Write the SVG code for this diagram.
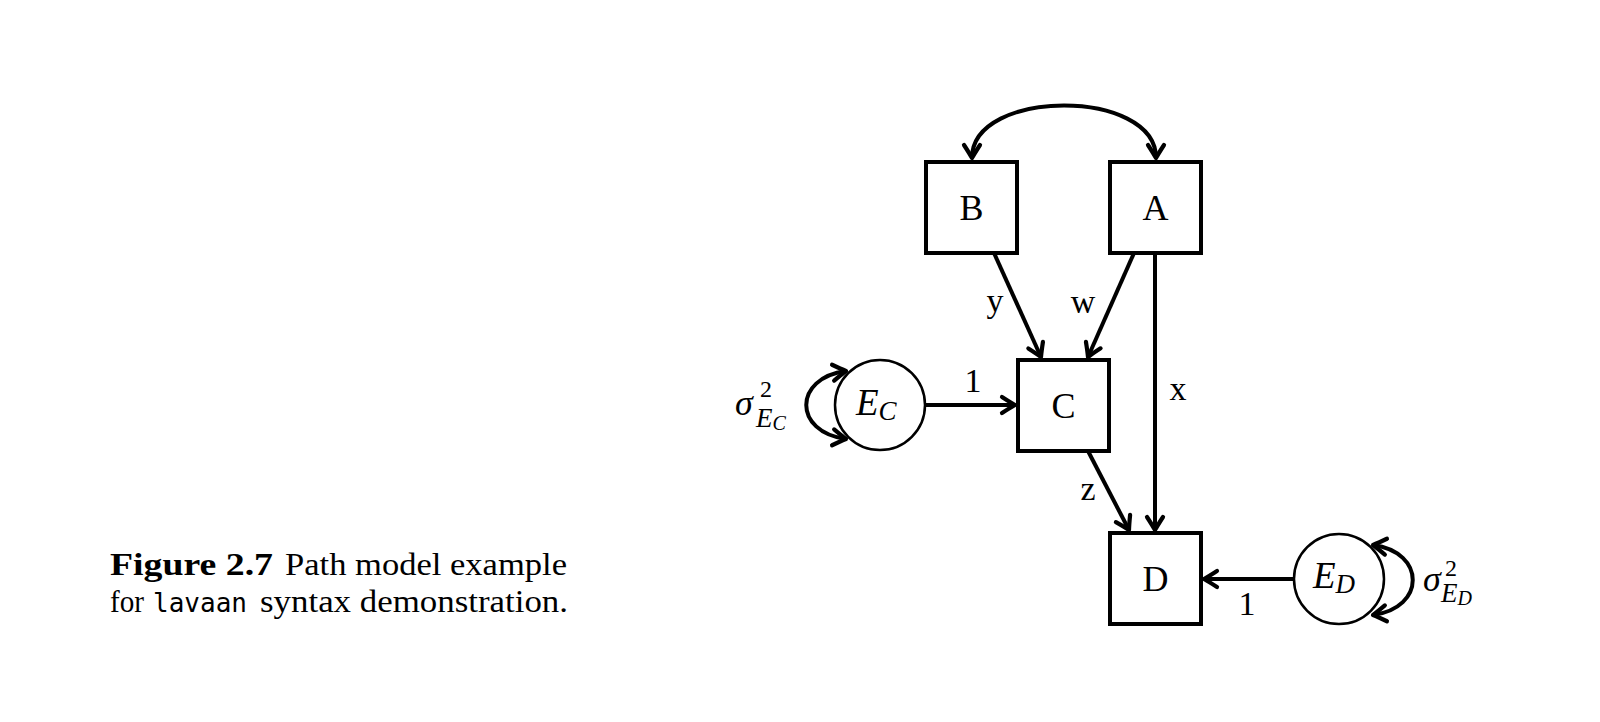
<svg xmlns="http://www.w3.org/2000/svg" width="1600" height="722" viewBox="0 0 1600 722">
<style>
  .box { fill: #fff; stroke: #000; stroke-width: 4; }
  .circ { fill: #fff; stroke: #000; stroke-width: 2.5; }
  .edge { fill: none; stroke: #000; stroke-width: 4; }
  .lbl { font-family: "Liberation Serif", serif; font-size: 34px; fill: #000; }
  .nl { font-family: "Liberation Serif", serif; font-size: 36px; fill: #000; text-anchor: middle; }
  .it { font-family: "Liberation Serif", serif; font-style: italic; fill: #000; }
  .cap { font-family: "Liberation Serif", serif; font-size: 31px; fill: #000; }
  .mono { font-family: "DejaVu Sans Mono", "Liberation Mono", monospace; font-size: 27px; fill: #000; }
</style>
<defs>
  <marker id="ah" markerUnits="userSpaceOnUse" viewBox="-18 -11 21 22" markerWidth="21" markerHeight="22" refX="0" refY="0" orient="auto-start-reverse">
    <path d="M -13 -8 Q -4.5 -2.5 0 0 Q -4.5 2.5 -13 8" fill="none" stroke="#000" stroke-width="4.2" stroke-linecap="round" stroke-linejoin="round"/>
  </marker>
</defs>
<rect width="1600" height="722" fill="#fff"/>

<g id="connectors">
  <path class="edge" d="M 972 158 C 972 88, 1156 88, 1156 158" marker-start="url(#ah)" marker-end="url(#ah)"/>
  <path class="edge" d="M 994 253 L 1041 357" marker-end="url(#ah)"/>
  <path class="edge" d="M 1134 253 L 1088 357" marker-end="url(#ah)"/>
  <path class="edge" d="M 1155 253 L 1155 530" marker-end="url(#ah)"/>
  <path class="edge" d="M 1088 451 L 1129 530" marker-end="url(#ah)"/>
  <path class="edge" d="M 925 405 L 1015 405" marker-end="url(#ah)"/>
  <path class="edge" d="M 1293 579 L 1204 579" marker-end="url(#ah)"/>
  <path class="edge" d="M 846 371 C 793 378, 793 432, 846 439" marker-start="url(#ah)" marker-end="url(#ah)"/>
  <path class="edge" d="M 1373 545 C 1426 552, 1426 608, 1373 615" marker-start="url(#ah)" marker-end="url(#ah)"/>
  <text class="lbl" x="995" y="312" text-anchor="middle">y</text>
  <text class="lbl" x="1083" y="313" text-anchor="middle">w</text>
  <text class="lbl" x="1178" y="400" text-anchor="middle">x</text>
  <text class="lbl" x="1088" y="500" text-anchor="middle">z</text>
  <text class="lbl" x="973" y="392" text-anchor="middle">1</text>
  <text class="lbl" x="1247" y="615" text-anchor="middle">1</text>
</g>

<g id="node-B">
  <rect class="box" x="926" y="162" width="91" height="91"/>
  <text class="nl" x="971.5" y="220">B</text>
</g>
<g id="node-A">
  <rect class="box" x="1110" y="162" width="91" height="91"/>
  <text class="nl" x="1155.5" y="220">A</text>
</g>
<g id="node-C">
  <rect class="box" x="1018" y="360" width="91" height="91"/>
  <text class="nl" x="1063.5" y="418">C</text>
</g>
<g id="node-D">
  <rect class="box" x="1110" y="533" width="91" height="91"/>
  <text class="nl" x="1155.5" y="591">D</text>
</g>
<g id="node-EC">
  <circle class="circ" cx="880" cy="405" r="45"/>
  <text class="it" x="856" y="415" font-size="37">E<tspan font-size="27" dy="5">C</tspan></text>
  <text class="it" x="735" y="415" font-size="36">σ</text>
  <text x="760" y="397" font-family="Liberation Serif, serif" font-size="24">2</text>
  <text class="it" x="756" y="427" font-size="27">E<tspan font-size="20" dy="3">C</tspan></text>
</g>
<g id="node-ED">
  <circle class="circ" cx="1339" cy="579" r="45"/>
  <text class="it" x="1313" y="588" font-size="37">E<tspan font-size="27" dy="5">D</tspan></text>
  <text class="it" x="1423" y="591" font-size="36">σ</text>
  <text x="1445" y="576" font-family="Liberation Serif, serif" font-size="24">2</text>
  <text class="it" x="1441" y="602" font-size="27">E<tspan font-size="20" dy="3">D</tspan></text>
</g>

<g id="caption">
  <text class="cap" x="110" y="575" font-weight="bold" textLength="163" lengthAdjust="spacingAndGlyphs">Figure 2.7</text>
  <text class="cap" x="285" y="575" textLength="282" lengthAdjust="spacingAndGlyphs">Path model example</text>
  <text class="cap" x="110" y="612" textLength="34" lengthAdjust="spacingAndGlyphs">for</text>
  <text class="mono" x="153" y="612" textLength="94" lengthAdjust="spacingAndGlyphs">lavaan</text>
  <text class="cap" x="260" y="612" textLength="308" lengthAdjust="spacingAndGlyphs">syntax demonstration.</text>
</g>
</svg>
